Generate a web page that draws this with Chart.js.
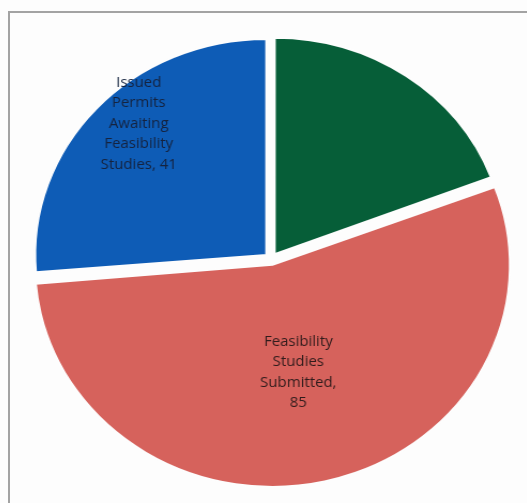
<!DOCTYPE html>
<html>
<head>
<meta charset="utf-8">
<script src="https://cdn.jsdelivr.net/npm/chart.js@4/dist/chart.umd.min.js"></script>
<style>
  html, body { margin: 0; padding: 0; background: #fdfdfd; width: 527px; height: 503px; overflow: hidden; }
  #frame {
    position: absolute; left: 8px; top: 11px; width: 620px; height: 620px;
    border-top: 2px solid #a3a3a3; border-left: 2px solid #a3a3a3;
  }
  #wrap {
    position: absolute; left: 0; top: 0; width: 527px; height: 503px;
    transform: scaleX(1.07); transform-origin: 271px 0;
  }
</style>
</head>
<body>
<div id="frame"></div>
<div id="wrap"><canvas id="pie" width="527" height="503"></canvas></div>
<script>
// Permit pipeline breakdown
const categories = [
  'Feasibility Studies Approved',
  'Feasibility Studies Submitted',
  'Issued Permits Awaiting Feasibility Studies'
];
const counts = [30, 85, 41];
const sliceColors = ['#065e38', '#d6625c', '#0e5cb6'];
const showLabel = [false, true, true];
const labelColors = ['#1a1a1a', '#301c1c', '#15233f'];
const labelRadius = [0.6, 0.51, 0.82];
const labelTurn = [0, 0, 5];   // degrees, clockwise nudge from the slice middle

// Draws wrapped "Category, value" labels inside the slices
const sliceLabels = {
  id: 'sliceLabels',
  afterDatasetsDraw(chart) {
    const ctx = chart.ctx;
    const meta = chart.getDatasetMeta(0);
    ctx.save();
    ctx.font = '14px "Open Sans", Lato, sans-serif';
    ctx.textAlign = 'center';
    ctx.textBaseline = 'middle';
    meta.data.forEach((arc, i) => {
      if (!showLabel[i]) return;
      const p = arc.getProps(['x', 'y', 'startAngle', 'endAngle', 'outerRadius'], true);
      const mid = (p.startAngle + p.endAngle) / 2;
      // arcs are drawn shifted by a quarter of their offset option
      const off = (arc.options.offset || 0) / 4;
      const ox = Math.cos(mid) * off, oy = Math.sin(mid) * off;
      const a = mid + labelTurn[i] * Math.PI / 180;
      const r = p.outerRadius * labelRadius[i];
      const cx = p.x + ox + Math.cos(a) * r;
      const cy = p.y + oy + Math.sin(a) * r;
      const text = categories[i] + ', ' + counts[i];
      const words = text.split(' ');
      const lines = [];
      let cur = '';
      words.forEach(w => {
        const t = cur ? cur + ' ' + w : w;
        if (cur && ctx.measureText(t).width > 80) { lines.push(cur); cur = w; }
        else cur = t;
      });
      if (cur) lines.push(cur);
      const lh = 20.5;
      ctx.fillStyle = labelColors[i];
      lines.forEach((ln, k) => {
        ctx.fillText(ln, cx, cy + (k - (lines.length - 1) / 2) * lh);
      });
    });
    ctx.restore();
  }
};

new Chart(document.getElementById('pie'), {
  type: 'pie',
  data: {
    labels: categories,
    datasets: [{
      data: counts,
      backgroundColor: sliceColors,
      borderColor: '#fdfdfd',
      borderWidth: 2,
      offset: 24,
      hoverOffset: 0
    }]
  },
  options: {
    responsive: false,
    animation: false,
    radius: 216,
    layout: { padding: { left: 15, right: 0, top: 15, bottom: 0 } },
    plugins: { legend: { display: false }, tooltip: { enabled: false } }
  },
  plugins: [sliceLabels]
});
</script>
</body>
</html>
